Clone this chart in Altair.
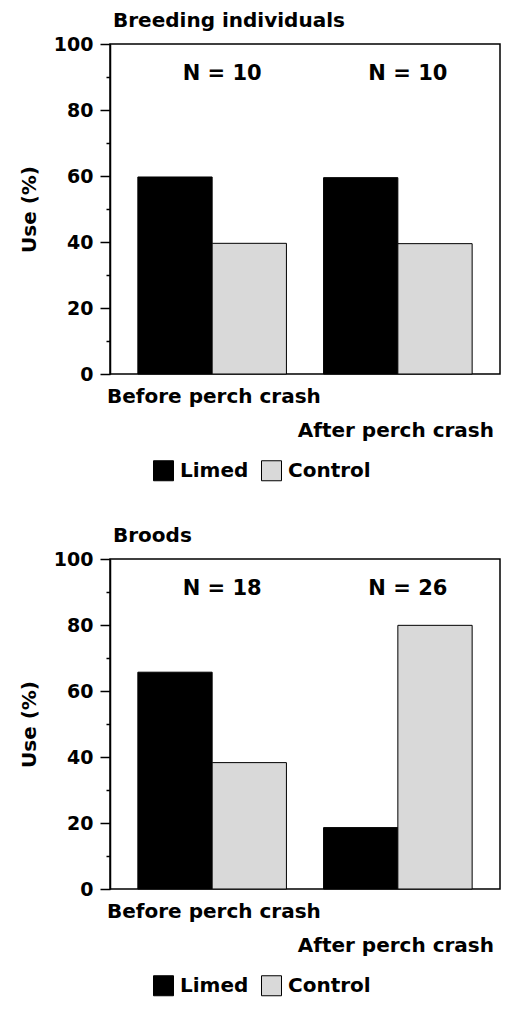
import altair as alt
import pandas as pd

# ---- data ----
periods = ["Before", "After"]
treatments = ["Limed", "Control"]
breeding_limed = [59.7, 59.5]
breeding_control = [39.6, 39.5]
broods_limed = [65.7, 18.6]
broods_control = [38.3, 79.9]
breeding_n = ["N = 10", "N = 10"]
broods_n = ["N = 18", "N = 26"]
panel_titles = ["Breeding individuals", "Broods"]
x_labels = ["Before perch crash", "After perch crash"]
y_ticks = list(range(0, 101, 10))
fill_colors = ["#000000", "#d9d9d9"]

W = 390
H = 330
FONT = "DejaVu Sans"


def panel(limed, control, nlabels, title):
    df = pd.DataFrame({
        "period": periods * 2,
        "treatment": [treatments[0]] * 2 + [treatments[1]] * 2,
        "use": limed + control,
    })
    xenc = alt.X("period:N", sort=periods,
                 scale=alt.Scale(domain=periods, paddingInner=0.2, paddingOuter=0.15),
                 axis=None)
    bars = alt.Chart(df).mark_bar(stroke="black", strokeWidth=1).encode(
        x=xenc,
        xOffset=alt.XOffset("treatment:N", sort=treatments,
                            scale=alt.Scale(domain=treatments)),
        y=alt.Y("use:Q", scale=alt.Scale(domain=[0, 100], nice=False),
                title="Use (%)",
                axis=alt.Axis(values=y_ticks,
                              labelExpr="datum.value % 20 === 0 ? datum.label : ''",
                              tickSize={"condition": {"test": "datum.value % 20 === 0", "value": 10}, "value": 4},
                              grid=False, labelPadding=7, titlePadding=14)),
        fill=alt.Fill("treatment:N",
                      scale=alt.Scale(domain=treatments, range=fill_colors),
                      legend=alt.Legend(title=None, orient="none", legendX=43, legendY=H + 86,
                                        direction="horizontal", symbolType="square",
                                        symbolSize=400, symbolStrokeColor="black",
                                        symbolStrokeWidth=1, labelFontSize=20,
                                        labelFont=FONT, labelFontWeight="bold",
                                        labelColor="black",
                                        labelOffset=6, columnPadding=10, padding=0)),
    )
    ndf = pd.DataFrame({"period": periods, "n": nlabels})
    ntext = alt.Chart(ndf).mark_text(fontSize=21, font=FONT, fontWeight="bold", dx=10,
                                     baseline="middle", color="black").encode(
        x=xenc, y=alt.value(30), text="n:N")
    before = alt.Chart(pd.DataFrame({"t": [x_labels[0]]})).mark_text(
        align="left", baseline="alphabetic", fontSize=20, font=FONT, fontWeight="bold",
        color="black"
    ).encode(x=alt.value(-3), y=alt.value(H + 29), text="t:N")
    after = alt.Chart(pd.DataFrame({"t": [x_labels[1]]})).mark_text(
        align="right", baseline="alphabetic", fontSize=20, font=FONT, fontWeight="bold",
        color="black"
    ).encode(x=alt.value(W - 6), y=alt.value(H + 63), text="t:N")
    return alt.layer(bars, ntext, before, after).properties(
        width=W, height=H,
        title=alt.TitleParams(title, anchor="start", frame="group", dx=3, fontSize=20,
                              font=FONT, fontWeight="bold", color="black", offset=4),
    )


chart = alt.vconcat(
    panel(breeding_limed, breeding_control, breeding_n, panel_titles[0]),
    panel(broods_limed, broods_control, broods_n, panel_titles[1]),
    spacing=41,
).resolve_scale(fill="independent", y="independent", x="independent").resolve_legend(
    fill="independent"
).properties(
    padding={"left": 10, "top": 2, "right": 0, "bottom": 0},
    background="white",
).configure(font=FONT).configure_view(
    stroke="black", strokeWidth=1.5
).configure_axis(
    domainColor="black", domainWidth=1.5, tickColor="black", tickWidth=1.5,
    labelColor="black", titleColor="black", labelFontSize=19, titleFontSize=20,
    titleFontWeight="bold", labelFontWeight="bold", labelFont=FONT, titleFont=FONT,
)

chart.save("out.html", embed_options={"renderer": "svg", "actions": False})
